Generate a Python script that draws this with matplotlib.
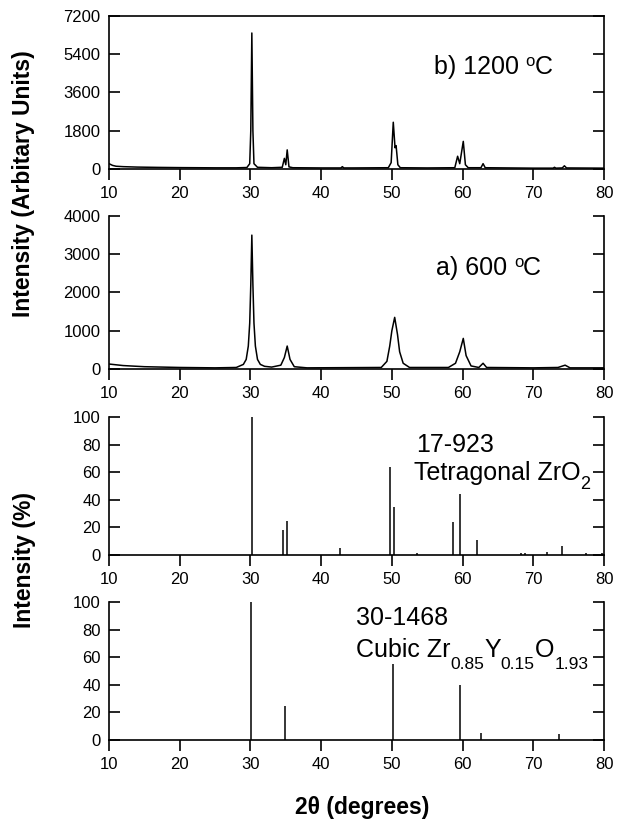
import matplotlib
matplotlib.use("Agg")
import matplotlib.pyplot as plt
from matplotlib.transforms import IdentityTransform

plt.rcParams['font.family'] = ['Liberation Sans', 'DejaVu Sans']

# ---- data: b) 1200 C pattern (2theta, intensity) ----
x_1200 = [10, 10.5, 11, 12, 14, 17, 20, 25, 28, 29.5, 29.9, 30.05, 30.2, 30.35, 30.5, 31,
          33, 34.5, 34.8, 35.0, 35.2, 35.45, 36, 40, 42.8, 43.0, 43.2, 44.5, 49.5, 49.9,
          50.2, 50.45, 50.6, 50.85, 51.2, 55, 58.9, 59.3, 59.6, 60.1, 60.4, 60.8, 62.6,
          62.9, 63.2, 70, 72.8, 73.0, 73.2, 74.1, 74.4, 74.7, 80]
y_1200 = [250, 170, 130, 110, 90, 75, 65, 55, 55, 70, 250, 1800, 6400, 1800, 250, 80,
          60, 80, 500, 200, 900, 100, 60, 50, 50, 110, 50, 50, 60, 300,
          2200, 1000, 1100, 200, 60, 50, 60, 600, 250, 1300, 200, 60, 60,
          250, 60, 40, 40, 80, 40, 50, 150, 50, 40]

# ---- data: a) 600 C pattern ----
x_600 = [10, 12, 15, 20, 25, 28, 29.0, 29.4, 29.7, 29.9, 30.05, 30.2, 30.35, 30.5, 30.7,
         31.0, 31.4, 32, 33, 34.3, 34.8, 35.2, 35.6, 36.2, 38, 48.5, 49.3, 49.7, 50.0,
         50.4, 50.8, 51.1, 51.6, 52.5, 58, 59, 59.6, 60.1, 60.5, 61.2, 62.3, 62.9, 63.4,
         70, 73.5, 74.5, 75.2, 80]
y_600 = [130, 90, 60, 40, 30, 40, 120, 250, 600, 1200, 2200, 3500, 2200, 1200, 600,
         250, 120, 70, 50, 100, 300, 600, 250, 60, 30, 40, 200, 600, 1000,
         1350, 900, 450, 150, 40, 40, 150, 450, 800, 350, 80, 40, 150, 40,
         30, 40, 100, 30, 30]

# ---- data: 17-923 tetragonal ZrO2 reference lines ----
tet_pos = [30.2, 34.6, 35.2, 42.7, 49.8, 50.3, 53.6, 58.6, 59.7, 62.1, 68.2, 68.8,
           72.0, 74.0, 77.5, 79.7]
tet_int = [100, 18, 25, 5, 64, 35, 1.5, 24, 44, 11, 1.5, 1.5, 2.5, 6.5, 1.5, 1.5]

# ---- data: 30-1468 cubic reference lines ----
cub_pos = [30.1, 34.9, 50.2, 59.6, 62.6, 73.7]
cub_int = [100, 25, 55, 40, 5, 4.5]

xticks = [10, 20, 30, 40, 50, 60, 70, 80]
yticks_1200 = [0, 1800, 3600, 5400, 7200]
yticks_600 = [0, 1000, 2000, 3000, 4000]
yticks_pct = [0, 20, 40, 60, 80, 100]

fig = plt.figure(figsize=(6.23, 8.22), dpi=100)
L, W = 109/623, 495/623
def rect(top, bot):
    return [L, 1 - bot/822, W, (bot - top)/822]

ax1 = fig.add_axes(rect(16, 169))
ax2 = fig.add_axes(rect(216, 369))
ax3 = fig.add_axes(rect(417, 555))
ax4 = fig.add_axes(rect(602, 740))

lw = 1.2
def style(ax, yt, ylim, top=False):
    ax.set_xlim(10, 80)
    ax.set_ylim(*ylim)
    ax.set_xticks(xticks)
    ax.set_yticks(yt)
    for s in ax.spines.values():
        s.set_linewidth(lw)
    ax.spines['top'].set_visible(top)
    ax.tick_params(axis='x', direction='out', length=8, width=lw, labelsize=12, pad=4)
    ax.tick_params(axis='y', direction='in', length=8, width=lw, labelsize=12, pad=6,
                   right=True)

renderer = fig.canvas.get_renderer()
def rich(ax, x, y, parts):
    """parts: list of (text, dy_pixels, size)"""
    px, py = ax.transData.transform((x, y))
    for s, dy, size in parts:
        t = fig.text(px, py + dy, s, fontsize=size, va='baseline', ha='left',
                     transform=IdentityTransform())
        bb = t.get_window_extent(renderer)
        px = bb.x1

ax1.plot(x_1200, y_1200, color='black', lw=1.1)
style(ax1, yticks_1200, (0, 7200), top=True)
rich(ax1, 55.9, 4450, [('b) 1200 ', 0, 18), ('o', 8, 12), ('C', 0, 18)])

ax2.plot(x_600, y_600, color='black', lw=1.1)
style(ax2, yticks_600, (0, 4000))
rich(ax2, 56.2, 2470, [('a) 600 ', 0, 18), ('o', 8, 12), ('C', 0, 18)])

ax3.vlines(tet_pos, 0, tet_int, color='black', lw=1.1)
style(ax3, yticks_pct, (0, 100))
rich(ax3, 53.4, 74.3, [('17-923', 0, 18)])
rich(ax3, 53.1, 54, [('Tetragonal ZrO', 0, 18), ('2', -9, 13)])

ax4.vlines(cub_pos, 0, cub_int, color='black', lw=1.1)
style(ax4, yticks_pct, (0, 100))
rich(ax4, 44.9, 83, [('30-1468', 0, 18)])
rich(ax4, 44.9, 60.2, [('Cubic Zr', 0, 18), ('0.85', -12, 12.5), ('Y', 0, 18),
                       ('0.15', -12, 12.5), ('O', 0, 18), ('1.93', -12, 12.5)])

fig.text(24/623, 1 - 184/822, 'Intensity (Arbitary Units)', rotation=90,
         fontsize=16.5, fontweight='bold', ha='center', va='center')
fig.text(24/623, 1 - 560/822, 'Intensity (%)', rotation=90,
         fontsize=16.5, fontweight='bold', ha='center', va='center')
fig.text(362/623, 1 - 807/822, '2θ (degrees)', fontsize=16.5, fontweight='bold',
         ha='center', va='center')

fig.savefig('out.png', dpi=100)
